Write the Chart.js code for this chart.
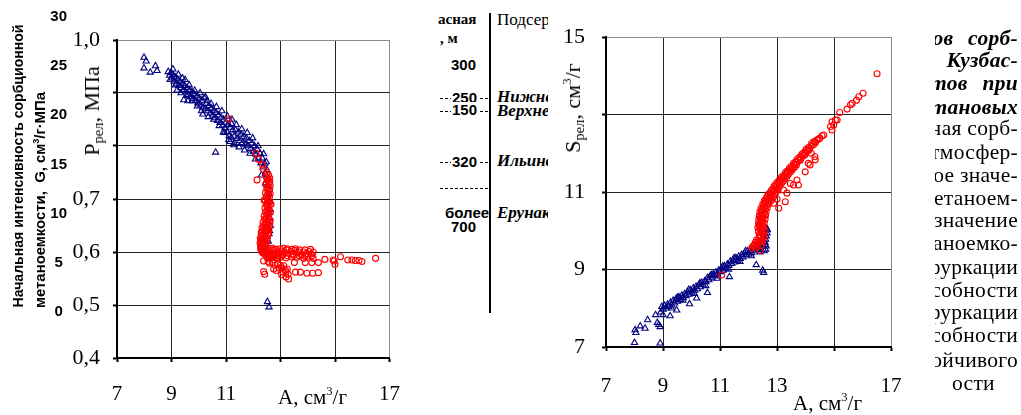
<!DOCTYPE html>
<html>
<head>
<meta charset="utf-8">
<script src="https://cdn.jsdelivr.net/npm/chart.js@4.4.0/dist/chart.umd.min.js"></script>
<style>
  html, body { margin: 0; padding: 0; background: #fff; }
  body { width: 1021px; height: 415px; position: relative; overflow: hidden; font-family: "Liberation Serif", serif; color: #000; }
  .abs { position: absolute; white-space: nowrap; }
  canvas { position: absolute; top: 0; }
  #leftChart { left: 0; }
  #rightChart { left: 548px; background: #fff; }
  .rot { transform-origin: center; }
  .gtitle { font-family: "Liberation Sans", sans-serif; font-weight: bold; font-size: 14px; line-height: 14px; }
  .ser { font-family: "Liberation Serif", serif; }
  sub { font-size: 0.66em; vertical-align: -0.28em; line-height: 0; }
  sup { font-size: 0.6em; vertical-align: 0.7em; line-height: 0; }
  .tb { font-family: "Liberation Sans", sans-serif; font-weight: bold; font-size: 15px; line-height: 15px; }
  .tw { font-family: "Liberation Serif", serif; font-weight: bold; font-size: 15px; line-height: 15px; }
  .ti { font-family: "Liberation Serif", serif; font-weight: bold; font-style: italic; font-size: 17px; line-height: 17px; }
  .dash { position: absolute; height: 0; border-top: 1px dashed #000; }
  .num { background: #fff; padding: 0 1px; }
  #textClip { position: absolute; left: 935px; top: 0; width: 83px; height: 415px; overflow: hidden; }
  #textClip div { position: absolute; right: 0; white-space: nowrap; font-size: 21.5px; line-height: 22px; letter-spacing: 0.3px; }
  .bi { font-weight: bold; font-style: italic; word-spacing: 9px; }
</style>
</head>
<body>
<canvas id="leftChart" width="420" height="415"></canvas>

<!-- fragment of the neighbouring table -->
<div class="abs tw" style="left:438px; top:12px;">асная</div>
<div class="abs tw" style="left:440px; top:31px;">, м</div>
<div class="abs tb" style="left:451px; top:57px;">300</div>
<div class="dash" style="left:440px; top:98px; width:48px;"></div>
<div class="abs tb num" style="left:451px; top:90px;">250</div>
<div class="dash" style="left:440px; top:111px; width:48px;"></div>
<div class="abs tb num" style="left:451px; top:102px;">150</div>
<div class="dash" style="left:440px; top:162px; width:48px;"></div>
<div class="abs tb num" style="left:451px; top:154px;">320</div>
<div class="dash" style="left:440px; top:188px; width:48px;"></div>
<div class="abs tb" style="left:445px; top:205px;">более</div>
<div class="abs tb" style="left:451px; top:219px;">700</div>
<div class="abs" style="left:489px; top:13px; width:2px; height:300px; background:#000;"></div>
<div class="abs ser" style="left:497px; top:10px; font-size:17px;">Подсерия</div>
<div class="abs ti" style="left:497px; top:88px;">Нижнебалахонская</div>
<div class="abs ti" style="left:497px; top:102px;">Верхнебалахонская</div>
<div class="abs ti" style="left:497px; top:152px;">Ильинская</div>
<div class="abs ti" style="left:497px; top:204px;">Ерунаковская</div>

<canvas id="rightChart" width="473" height="415"></canvas>

<!-- axis titles -->
<div class="abs gtitle rot fit" data-len="283" style="left:18px; top:166px;">Начальная интенсивность сорбционной</div>
<div class="abs gtitle rot fit" data-len="216" style="left:40px; top:200px;">метаноемкости,&nbsp;&nbsp;G, см<sup>3</sup>/г·МПа</div>
<div class="abs ser rot" style="left:92px; top:111px; font-size:22px; line-height:22px;">P<sub>рел</sub>, МПа</div>
<div class="abs ser" style="left:278px; top:386px; font-size:21px; line-height:22px;">A, см<sup>3</sup>/г</div>
<div class="abs ser rot" style="left:573px; top:108px; font-size:22px; line-height:22px;">S<sub>рел</sub>, см<sup>3</sup>/г</div>
<div class="abs ser" style="left:793px; top:392px; font-size:21px; line-height:22px;">A, см<sup>3</sup>/г</div>

<!-- fragment of the page text on the right -->
<div id="textClip">
  <div class="bi" style="top:27px;">ов сорб-</div>
  <div class="bi" style="top:49px;">Кузбас-</div>
  <div class="bi" style="top:72px;">тов при</div>
  <div class="bi" style="top:96px;">тановых</div>
  <div style="top:117px;">ная сорб-</div>
  <div style="top:141px;">атмосфер-</div>
  <div style="top:164px;">ое значе-</div>
  <div style="top:187px;">метаноем-</div>
  <div style="top:209px;">е значение</div>
  <div style="top:232px;">таноемко-</div>
  <div style="top:256px;">фуркации</div>
  <div style="top:279px;">пособности</div>
  <div style="top:301px;">фуркации</div>
  <div style="top:324px;">пособности</div>
  <div style="top:349px;">тойчивого</div>
  <div style="top:372px; right:auto; left:17px;">ости</div>
</div>

<script>
// left chart: A (cm3/g) vs P rel (MPa)
const leftTriangles = [
  [7.99,0.967],[8.07,0.96],[7.99,0.947],[8.22,0.939],[8.41,0.951],[8.47,0.942],
  [9.45,0.887],[10.62,0.788],[12.52,0.506],[12.58,0.496],
  [8.88,0.94],[8.93,0.933],[8.98,0.938],[9.02,0.928],[9.06,0.934],[9.1,0.922],[9.14,0.93],
  [9.18,0.918],[9.22,0.926],[9.27,0.914],[9.31,0.922],[9.35,0.91],[9.4,0.918],[9.44,0.906],
  [9.48,0.914],[9.52,0.902],[9.57,0.91],[9.61,0.897],[9.66,0.906],[9.7,0.893],[9.75,0.902],
  [9.79,0.889],[9.84,0.898],[9.88,0.885],[9.93,0.894],[9.97,0.881],[10.02,0.89],[10.06,0.877],
  [10.11,0.886],[10.2,0.891],[10.15,0.873],[10.24,0.87],[10.28,0.88],[10.33,0.866],[10.37,0.876],
  [10.42,0.862],[10.46,0.871],[10.51,0.858],[10.55,0.867],[10.6,0.853],[10.64,0.863],[10.69,0.848],
  [10.73,0.858],[10.78,0.844],[10.82,0.854],[10.87,0.839],[10.91,0.85],[10.96,0.834],[11.0,0.845],
  [11.04,0.826],[11.08,0.84],[11.12,0.82],[11.16,0.835],[11.2,0.816],[11.25,0.83],
  [11.3,0.818],[11.35,0.83],[11.4,0.814],[11.45,0.826],[11.5,0.81],[11.55,0.822],[11.6,0.806],
  [11.65,0.818],[11.7,0.803],[11.75,0.815],[11.8,0.8],[11.85,0.81],[11.9,0.795],[11.95,0.805],
  [12.0,0.79],[12.05,0.8],[12.1,0.784],[12.15,0.793],[12.2,0.777],[12.25,0.786],[12.28,0.768],
  [12.33,0.777],[12.36,0.76],[12.42,0.767],[12.45,0.748],[12.5,0.755],[12.52,0.738],[12.55,0.725],
  [12.58,0.71],[12.6,0.695],[12.62,0.68],[12.6,0.665],[12.63,0.65],[12.58,0.634],[12.55,0.62],
  [9.2,0.905],[9.6,0.885],[10.1,0.866],[10.9,0.826],[11.1,0.812],[11.3,0.806],
  [9.4,0.928],[10.3,0.885],[11.2,0.842],
  [8.95,0.925],[9.05,0.945],[9.15,0.915],[9.25,0.935],[9.35,0.9],[9.5,0.925],[9.55,0.895],
  [9.65,0.915],[9.75,0.885],[9.85,0.905],[9.95,0.875],[10.05,0.9],[10.15,0.86],[10.25,0.892],
  [10.35,0.855],[10.45,0.88],[10.55,0.85],[10.65,0.874],[10.75,0.838],[10.85,0.866],[10.95,0.825],
  [11.05,0.856],[11.15,0.808],[11.22,0.85],[11.28,0.802],[11.38,0.84],[11.48,0.798],[11.58,0.832],
  [11.68,0.792],[11.78,0.825],[11.88,0.786],[11.98,0.815],[12.08,0.775],[12.18,0.8],[12.3,0.745],
  [12.38,0.785],[12.45,0.73],[12.48,0.77],[12.55,0.7],[12.58,0.675],[12.6,0.64],[12.5,0.71]
];
const leftCircles = [
  [11.1,0.851],[12.1,0.786],[12.19,0.775],[12.34,0.764],[12.37,0.756],[12.14,0.736],[12.4,0.698],
  [12.5,0.75],[12.56,0.745],[12.6,0.74],[12.52,0.735],[12.58,0.73],[12.62,0.725],[12.5,0.72],
  [12.56,0.715],[12.62,0.71],[12.48,0.705],[12.54,0.7],[12.6,0.695],[12.65,0.69],[12.47,0.69],
  [12.52,0.685],[12.58,0.68],[12.63,0.675],[12.45,0.675],[12.5,0.67],[12.56,0.665],[12.62,0.66],
  [12.42,0.662],[12.48,0.656],[12.54,0.652],[12.6,0.648],[12.38,0.65],[12.44,0.645],[12.5,0.64],
  [12.56,0.636],[12.33,0.64],[12.39,0.635],[12.45,0.63],[12.52,0.627],[12.3,0.63],[12.36,0.625],
  [12.42,0.62],[12.48,0.617],[12.28,0.622],[12.34,0.615],[12.4,0.611],[12.27,0.612],[12.33,0.607],
  [12.39,0.604],[12.45,0.602],[12.3,0.602],
  [12.47,0.742],[12.54,0.738],[12.61,0.733],[12.46,0.728],[12.53,0.722],[12.6,0.718],[12.45,0.712],
  [12.52,0.708],[12.59,0.703],[12.44,0.697],[12.51,0.693],[12.58,0.688],[12.43,0.683],[12.5,0.678],
  [12.57,0.673],[12.4,0.668],[12.47,0.663],[12.54,0.658],[12.61,0.655],[12.36,0.656],[12.43,0.652],
  [12.5,0.647],[12.57,0.643],[12.32,0.646],[12.39,0.642],[12.46,0.638],[12.53,0.633],[12.29,0.636],
  [12.35,0.632],[12.42,0.627],[12.49,0.623],[12.26,0.626],[12.32,0.62],[12.38,0.617],[12.45,0.613],
  [12.25,0.617],[12.3,0.611],[12.36,0.608],[12.42,0.606],[12.27,0.606],[12.33,0.6],[12.4,0.598],
  [12.47,0.597],
  [12.36,0.598],[12.42,0.596],[12.5,0.6],[12.55,0.594],[12.62,0.602],[12.68,0.597],[12.75,0.603],
  [12.8,0.595],[12.88,0.6],[12.95,0.596],[13.02,0.602],[13.08,0.595],[13.15,0.6],[13.22,0.604],
  [13.3,0.597],[13.38,0.601],[13.45,0.596],[13.52,0.603],[13.6,0.598],[13.68,0.6],[13.76,0.595],
  [13.85,0.6],[13.95,0.597],[14.05,0.601],[14.12,0.596],[14.2,0.6],[12.5,0.59],[12.6,0.588],
  [12.7,0.59],[12.85,0.588],[13.0,0.59],[13.2,0.589],[13.4,0.591],[13.6,0.59],[13.85,0.588],
  [14.0,0.592],[14.2,0.588],
  [12.45,0.606],[12.55,0.607],[12.65,0.606],[12.72,0.607],[12.85,0.605],[12.98,0.606],[13.1,0.607],
  [13.25,0.606],[13.42,0.605],[13.55,0.606],[13.7,0.604],[13.9,0.604],[14.1,0.605],[12.48,0.594],
  [12.58,0.592],[12.66,0.593],[12.78,0.591],[12.92,0.593],[13.05,0.594],[13.25,0.593],[13.48,0.594],
  [13.7,0.592],[13.9,0.593],[14.15,0.593],
  [12.38,0.583],[12.6,0.579],[12.88,0.588],[13.0,0.575],[13.18,0.566],[13.51,0.58],[13.91,0.58],
  [14.15,0.58],[14.39,0.58],[14.63,0.586],[14.93,0.585],[15.0,0.577],[14.97,0.583],[15.2,0.591],
  [15.47,0.585],[15.62,0.585],[15.75,0.584],[15.88,0.584],[15.99,0.582],[16.49,0.588],
  [12.55,0.582],[12.7,0.58],[12.8,0.575],[12.9,0.578],[13.05,0.57],[13.12,0.574],[13.2,0.562],
  [13.28,0.558],[12.75,0.568],[12.85,0.565],
  [12.38,0.563],[12.42,0.558],[12.95,0.57],[13.04,0.557],[13.1,0.562],[13.2,0.553],[13.3,0.549],
  [13.25,0.568],[13.55,0.562],[13.73,0.562],[13.97,0.56],[14.18,0.56],[14.39,0.561]
];

// right chart: A (cm3/g) vs S rel (cm3/g)
const rightTriangles = [
  [8.0,7.11],[8.9,7.1],[8.02,7.44],[8.05,7.37],[8.2,7.54],[8.37,7.48],[8.46,7.7],[8.74,7.83],
  [8.8,7.63],[8.9,7.52],[8.85,7.58],[9.0,7.83],[9.25,7.8],[9.48,7.95],[9.93,8.11],[10.18,8.26],
  [10.56,8.4],[11.33,8.81],[12.27,9.12],[12.53,8.92],[12.5,8.98],[12.55,9.48],[12.6,9.52],[12.45,9.5],
  [8.92,7.9],[8.96,8.04],[9.0,7.97],[9.06,8.07],[9.1,8.0],[9.16,8.1],[9.2,8.04],[9.26,8.15],
  [9.31,8.08],[9.36,8.2],[9.41,8.13],[9.46,8.24],[9.51,8.18],[9.56,8.29],[9.61,8.22],[9.66,8.33],
  [9.71,8.27],[9.76,8.37],[9.81,8.32],[9.86,8.42],[9.91,8.36],[9.96,8.47],[10.01,8.41],[10.06,8.52],
  [10.11,8.46],[10.16,8.56],[10.21,8.5],[10.26,8.61],[10.31,8.55],[10.36,8.66],[10.41,8.6],[10.46,8.7],
  [10.51,8.68],[10.56,8.79],[10.61,8.73],[10.66,8.84],[10.71,8.78],[10.76,8.88],[10.81,8.83],[10.86,8.93],
  [10.91,8.88],[10.96,8.98],[11.01,8.94],[11.06,9.04],[11.11,8.98],[11.16,9.09],[11.21,9.03],[11.26,9.14],
  [11.31,9.1],[11.36,9.21],[11.41,9.15],[11.46,9.25],[11.51,9.19],[11.56,9.3],[11.61,9.23],[11.66,9.34],
  [11.71,9.28],[11.76,9.38],[11.81,9.32],[11.86,9.43],[11.91,9.37],[11.96,9.47],[12.01,9.39],[12.06,9.49],
  [12.11,9.43],[12.16,9.53],[12.21,9.48],[12.26,9.58],[12.31,9.52],[12.36,9.63],[12.41,9.56],[12.46,9.68],
  [12.5,9.6],[12.55,9.72],[12.58,9.64],[12.6,9.78],[12.62,9.86],[12.65,9.94],[12.66,10.02],[12.64,10.06],
  [9.3,8.0],[9.5,8.28],[9.7,8.2],[9.9,8.48],[10.1,8.38],[10.3,8.65],[10.5,8.58],[10.7,8.86],
  [10.9,8.77],[11.1,9.08],[11.3,9.0],[11.5,9.3],[11.7,9.2],[11.9,9.48],[12.1,9.35],[12.3,9.62],
  [12.4,9.45],[12.58,9.7],[12.62,9.6]
];
const rightCircles = [
  [11.06,8.86],[12.11,9.55],[12.41,9.49],[12.2,9.62],[12.3,9.58],[12.25,9.7],[12.45,9.62],[12.5,9.72],
  [12.15,9.6],[12.22,9.66],[12.32,9.68],[12.38,9.74],[12.28,9.76],[12.36,9.8],[12.44,9.72],
  [12.5,9.78],[12.42,9.82],[12.55,9.85],[12.38,9.9],[12.5,9.93],[12.35,9.98],[12.45,10.02],[12.58,10.0],
  [12.33,10.08],[12.42,10.12],[12.52,10.1],[12.35,10.18],[12.45,10.22],[12.55,10.2],[12.36,10.28],
  [12.46,10.32],[12.58,10.3],[12.38,10.38],[12.48,10.42],[12.6,10.4],[12.4,10.48],[12.5,10.52],
  [12.62,10.5],[12.44,10.58],[12.55,10.62],[12.66,10.6],[12.5,10.68],[12.6,10.72],[12.72,10.7],
  [12.56,10.78],[12.68,10.8],[12.8,10.78],[12.65,10.88],[12.77,10.9],[12.88,10.88],[12.75,10.98],
  [12.86,11.0],[12.97,11.0],[12.85,11.08],[12.96,11.12],[13.05,11.1],[12.95,11.2],[13.06,11.22],
  [13.15,11.22],[13.08,11.3],[13.18,11.34],[13.28,11.34],[13.22,11.42],[13.32,11.46],[13.4,11.46],
  [13.36,11.54],[13.46,11.58],[13.54,11.58],[13.5,11.66],[13.6,11.7],[13.68,11.7],[13.65,11.78],
  [13.75,11.82],[13.82,11.82],[13.8,11.9],[13.9,11.94],[13.97,11.95],[13.95,12.02],[14.05,12.06],
  [14.12,12.08],[14.1,12.15],[14.2,12.2],[14.28,12.22],[14.3,12.3],[14.4,12.34],[14.5,12.39],
  [14.58,12.45],[14.64,12.47],
  [12.4,9.86],[12.47,9.96],[12.4,10.05],[12.5,10.06],[12.38,10.14],[12.48,10.16],[12.4,10.24],
  [12.5,10.26],[12.42,10.34],[12.52,10.36],[12.44,10.44],[12.55,10.46],[12.47,10.54],[12.58,10.56],
  [12.52,10.64],[12.63,10.66],[12.58,10.74],[12.7,10.75],[12.62,10.84],[12.72,10.85],[12.82,10.84],
  [12.7,10.94],[12.8,10.95],[12.92,10.94],[12.8,11.04],[12.9,11.05],[13.0,11.05],[12.9,11.15],
  [13.0,11.16],[13.1,11.16],[13.02,11.26],[13.12,11.28],[13.22,11.28],[13.15,11.38],[13.25,11.4],
  [13.35,11.4],[13.3,11.5],[13.4,11.52],[13.48,11.52],[13.44,11.62],[13.55,11.64],[13.62,11.64],
  [13.58,11.74],[13.7,11.76],[13.72,11.86],[13.85,11.88],[13.88,11.98],[14.0,12.0],[14.02,12.1],
  [14.15,12.12],[14.22,12.26],[14.35,12.28],[14.45,12.36],
  [13.29,10.75],[13.06,10.58],[13.23,11.05],[13.47,11.22],[13.7,11.31],[13.99,11.52],[14.1,11.74],
  [14.34,11.83],[12.59,10.41],[12.88,10.71],[13.0,10.82],[13.35,10.97],[13.58,11.18],[13.75,11.18],
  [14.16,11.7],[14.33,11.91],[14.2,12.0],
  [14.88,12.69],[14.93,12.6],[14.99,12.73],[14.93,12.81],[15.05,12.86],[15.11,12.86],[15.2,13.05],
  [15.46,13.14],[15.58,13.25],[15.64,13.29],[15.79,13.37],[15.87,13.46],[16.02,13.55],[16.51,14.05]
];

const leftXTicks = [7, 9, 11, 13, 15, 17];
const leftXLabels = ['7', '9', '11', '', '', '17'];
const leftYTicks = [0.4, 0.5, 0.6, 0.7, 0.8, 0.9, 1.0];
const leftYLabels = ['0,4', '0,5', '0,6', '0,7', '', '', '1,0'];
const gTicks = [0, 5, 10, 15, 20, 25, 30];
const rightXTicks = [7, 9, 11, 13, 15, 17];
const rightXLabels = ['7', '9', '11', '13', '', '17'];
const rightYTicks = [7, 9, 11, 13, 15];
const rightYLabels = ['7', '9', '11', '', '15'];

const toXY = pts => pts.map(p => ({ x: p[0], y: p[1] }));
const fixedTicks = values => scale => { scale.ticks = values.map(v => ({ value: v })); };
const gridColor = maxValue => ctx => (ctx.tick && Math.abs(ctx.tick.value - maxValue) < 1e-9) ? '#8c8c8c' : '#222';

function circles(pts) {
  return { data: toXY(pts), pointStyle: 'circle', radius: 3, borderWidth: 1.1,
           borderColor: '#ff0000', backgroundColor: 'rgba(0,0,0,0)' };
}
function triangles(pts) {
  return { data: toXY(pts), pointStyle: 'triangle', radius: 3.6, borderWidth: 1.1,
           borderColor: '#000080', backgroundColor: 'rgba(0,0,0,0)' };
}
const tickFont = { family: 'Liberation Serif', size: 21 };

new Chart(document.getElementById('leftChart'), {
  type: 'scatter',
  data: { datasets: [circles(leftCircles), triangles(leftTriangles)] },
  options: {
    responsive: false, animation: false, devicePixelRatio: 1,
    layout: { padding: { left: 0, right: 26, top: 40, bottom: 0 } },
    plugins: { legend: { display: false }, tooltip: { enabled: false } },
    scales: {
      x: {
        type: 'linear', min: 7, max: 17,
        afterBuildTicks: fixedTicks(leftXTicks),
        afterFit: s => { s.height = 57; },
        grid: { color: gridColor(17), lineWidth: 1, tickLength: 4, tickColor: '#000', tickWidth: 2 },
        border: { color: '#000', width: 2 },
        ticks: { autoSkip: false, maxRotation: 0, padding: 20, color: '#000', font: tickFont,
                 callback: (v, i) => leftXLabels[i] }
      },
      y: {
        type: 'linear', position: 'left', weight: 0, min: 0.4, max: 1.0,
        afterBuildTicks: fixedTicks(leftYTicks),
        afterFit: s => { s.width = 47; },
        grid: { color: gridColor(1.0), lineWidth: 1, tickLength: 4, tickColor: '#000', tickWidth: 2 },
        border: { color: '#000', width: 2 },
        ticks: { autoSkip: false, padding: 13, color: '#000', font: { family: 'Liberation Serif', size: 22 },
                 callback: (v, i) => leftYLabels[i] }
      },
      g: {
        type: 'linear', position: 'left', weight: 1, min: -4.68, max: 27.66, bounds: 'data',
        afterBuildTicks: fixedTicks(gTicks),
        afterFit: s => { s.width = 70; },
        grid: { display: false, drawTicks: false },
        border: { display: false },
        ticks: { autoSkip: false, crossAlign: 'center', padding: 3, color: '#000',
                 font: { family: 'Liberation Sans', size: 15, weight: 'bold' },
                 callback: v => String(v) }
      }
    }
  }
});

new Chart(document.getElementById('rightChart'), {
  type: 'scatter',
  data: { datasets: [circles(rightCircles), triangles(rightTriangles)] },
  options: {
    responsive: false, animation: false, devicePixelRatio: 1,
    layout: { padding: { left: 0, right: 130, top: 37, bottom: 0 } },
    plugins: { legend: { display: false }, tooltip: { enabled: false } },
    scales: {
      x: {
        type: 'linear', min: 7, max: 17,
        afterBuildTicks: fixedTicks(rightXTicks),
        afterFit: s => { s.height = 68; },
        grid: { color: gridColor(17), lineWidth: 1, tickLength: 4, tickColor: '#000', tickWidth: 2 },
        border: { color: '#000', width: 2 },
        ticks: { autoSkip: false, maxRotation: 0, padding: 23, color: '#000', font: tickFont,
                 callback: (v, i) => rightXLabels[i] }
      },
      y: {
        type: 'linear', position: 'left', min: 7, max: 15,
        afterBuildTicks: fixedTicks(rightYTicks),
        afterFit: s => { s.width = 58; },
        grid: { color: gridColor(15), lineWidth: 1, tickLength: 4, tickColor: '#000', tickWidth: 2 },
        border: { color: '#000', width: 2 },
        ticks: { autoSkip: false, padding: 17, color: '#000', font: { family: 'Liberation Serif', size: 22 },
                 callback: (v, i) => rightYLabels[i] }
      }
    }
  }
});

// rotate the vertical titles, stretching the two bold lines to their length
document.querySelectorAll('.rot').forEach(el => {
  let k = 1;
  if (el.classList.contains('fit')) k = Number(el.dataset.len) / el.offsetWidth;
  el.style.transform = 'translate(-50%,-50%) rotate(-90deg) scaleX(' + k.toFixed(3) + ')';
});
</script>
</body>
</html>
